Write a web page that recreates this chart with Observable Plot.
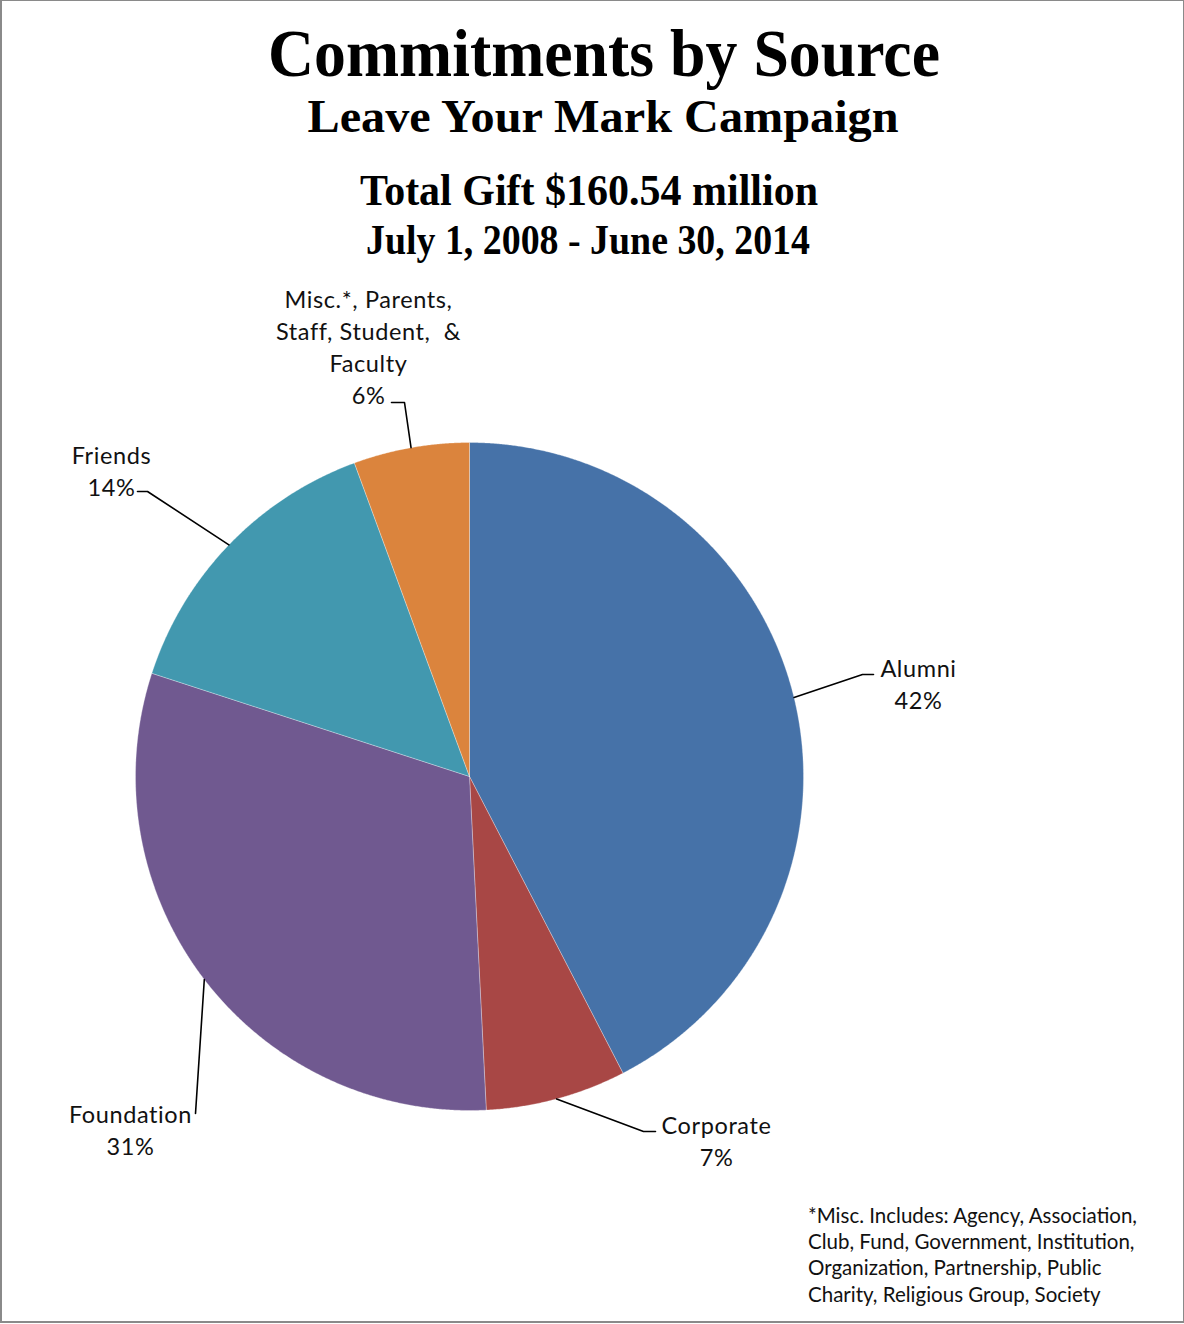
<!DOCTYPE html>
<html>
<head>
<meta charset="utf-8">
<script src="https://cdn.jsdelivr.net/npm/d3@7"></script>
<script src="https://cdn.jsdelivr.net/npm/@observablehq/plot@0.6"></script>
<style>
  html, body { margin: 0; padding: 0; background: #fff; }
  #wrap { position: relative; width: 1184px; height: 1324px; overflow: hidden; background: #fff; }
  #chart, #titles, #note, #border { position: absolute; left: 0; top: 0; }
  #chart svg text { letter-spacing: 0.6px; }
  #border { width: 1181px; height: 1320px; border: 1px solid #8a8a8a; border-left-width: 2px; border-bottom-width: 2px; pointer-events: none; }
  #note { left: 808px; top: 1202px; font-family: Lato, "Open Sans", sans-serif; font-size: 20.5px; line-height: 26.2px; color: #111; white-space: pre; }
</style>
</head>
<body>
<div id="wrap">
  <div id="chart"></div>
  <svg id="titles" width="1184" height="280"></svg>
  <div id="note"></div>
  <div id="border"></div>
</div>
<script>
// ---- data ----
const categories = ["Alumni", "Corporate", "Foundation", "Friends", "Misc"];
const shares = [42.4, 6.8, 30.8, 14.4, 5.6]; // percent of total commitments
const labelNames = ["Alumni", "Corporate", "Foundation", "Friends", "Misc.*, Parents,\nStaff, Student,  &\nFaculty"];
const sliceColors = ["#4672A8", "#A84745", "#705990", "#4298AF", "#DB843D"];

const titleLines = ["Commitments by Source", "Leave Your Mark Campaign", "Total Gift $160.54 million", "July 1, 2008 - June 30, 2014"];
const footnoteLines = ["*Misc. Includes: Agency, Association,", "Club, Fund, Government, Institution,", "Organization, Partnership, Public", "Charity, Religious Group, Society"];

// ---- layout (pixels relative to pie centre) ----
const R = 334;
const labelLayout = {
  Alumni:     {tx: 449,  ty: -68,  ex: 393,  ey: -102, hx: 404,  hy: -102},
  Corporate:  {tx: 247,  ty: 389,  ex: 174,  ey: 355,  hx: 186,  hy: 355},
  Foundation: {tx: -339, ty: 378,  ex: -274, ey: 337,  hx: -274, hy: 337},
  Friends:    {tx: -358, ty: -281, ex: -322, ey: -285, hx: -332, hy: -285},
  Misc:       {tx: -101, ty: -373, ex: -65,  ey: -374, hx: -78,  hy: -374}
};

const data = categories.map((c, i) => ({name: c, value: shares[i], label: labelNames[i]}));
const arcs = d3.pie().sort(null).value(d => d.value)(data);

// slice outlines
const slicePts = [];
for (const a of arcs) {
  const n = Math.max(8, Math.ceil((a.endAngle - a.startAngle) / 0.004));
  slicePts.push({name: a.data.name, x: 0, y: 0});
  for (let k = 0; k <= n; k++) {
    const t = a.startAngle + (a.endAngle - a.startAngle) * k / n;
    slicePts.push({name: a.data.name, x: R * Math.sin(t), y: -R * Math.cos(t)});
  }
  slicePts.push({name: a.data.name, x: 0, y: 0});
}

// leader lines
const leaderPts = [];
const labelRows = [];
for (const a of arcs) {
  const m = (a.startAngle + a.endAngle) / 2;
  const L = labelLayout[a.data.name];
  leaderPts.push({name: a.data.name, x: R * Math.sin(m), y: -R * Math.cos(m)});
  leaderPts.push({name: a.data.name, x: L.ex, y: L.ey});
  leaderPts.push({name: a.data.name, x: L.hx, y: L.hy});
  labelRows.push({x: L.tx, y: L.ty, text: a.data.label + "\n" + d3.format(".0f")(a.data.value) + "%"});
}

const plot = Plot.plot({
  width: 1184,
  height: 1324,
  margin: 0,
  x: {domain: [-469, 715], range: [0, 1184], axis: null},
  y: {domain: [-776, 548], range: [0, 1324], axis: null},
  color: {domain: categories, range: sliceColors},
  style: {background: "white"},
  marks: [
    Plot.line(slicePts, {x: "x", y: "y", z: "name", fill: "name", stroke: "white", strokeWidth: 0.6, strokeOpacity: 0.5, curve: "linear"}),
    Plot.line(leaderPts, {x: "x", y: "y", z: "name", stroke: "black", strokeWidth: 1.6}),
    Plot.text(labelRows, {x: "x", y: "y", text: "text", lineAnchor: "bottom", lineHeight: 1.35, fontSize: 23.5, fontFamily: "Lato, 'Open Sans', sans-serif", fill: "#111"})
  ]
});
document.getElementById("chart").appendChild(plot);

// titles
const titleSpecs = [
  {cx: 604, y: 76, size: 68, len: 672},
  {cx: 603, y: 132, size: 46, len: 591},
  {cx: 589, y: 205, size: 44, len: 458},
  {cx: 588, y: 254, size: 43, len: 444}
];
const tsvg = d3.select("#titles");
titleLines.forEach((t, i) => {
  const s = titleSpecs[i];
  tsvg.append("text")
    .attr("x", s.cx).attr("y", s.y)
    .attr("text-anchor", "middle")
    .attr("font-family", "'Liberation Serif', 'Times New Roman', serif")
    .attr("font-weight", "bold")
    .attr("font-size", s.size)
    .attr("textLength", s.len)
    .attr("lengthAdjust", "spacingAndGlyphs")
    .text(t);
});

document.getElementById("note").textContent = footnoteLines.join("\n");
</script>
</body>
</html>
